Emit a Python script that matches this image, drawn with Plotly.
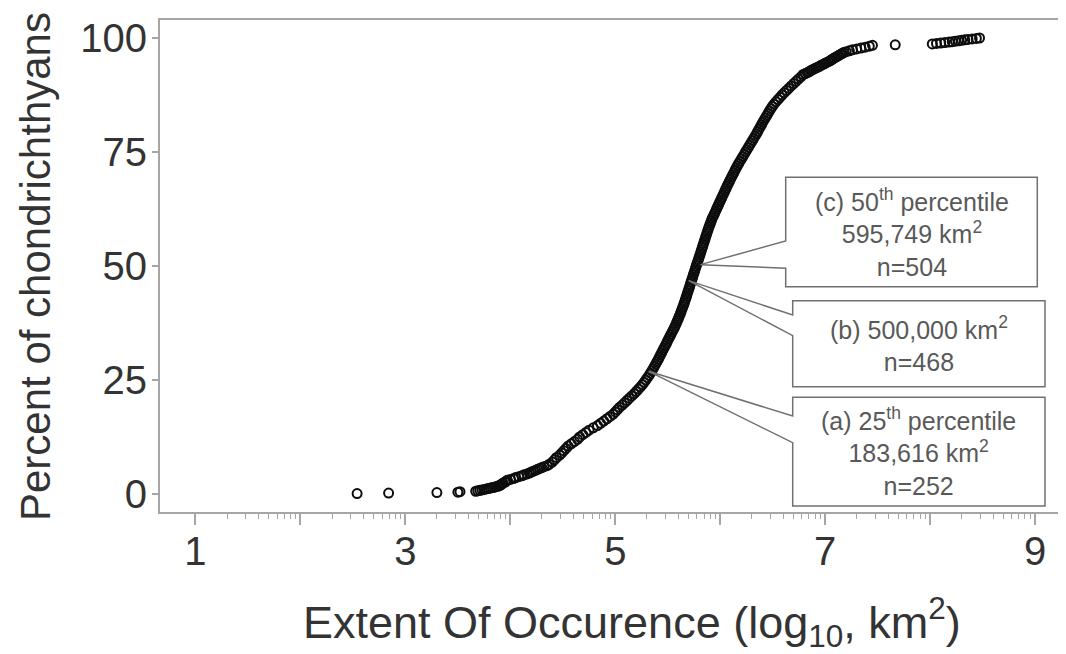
import math
import plotly.graph_objects as go

# ---- data: cumulative percent of species vs log10 EOO ----
pct_values = [
    0.1, 0.2, 0.3, 0.4, 0.5,
    0.6, 0.7, 0.8, 0.9, 1.0, 1.1, 1.2, 1.3, 1.4, 1.5, 1.6, 1.7, 1.8, 1.9,
    2.0, 2.2, 2.4, 2.6, 2.8, 3.0, 3.2, 3.4, 3.6, 3.8, 4.0, 4.2, 4.4, 4.6, 4.8,
    5.0, 5.2, 5.4, 5.6, 5.8, 6.0, 6.2,
    6.5, 7.0, 7.5, 8.0, 8.5, 9.0, 9.5, 10.0, 10.5, 11.0, 11.5, 12.0, 12.5, 13.0,
    13.5, 14.0, 14.5, 15.0, 15.5, 16.0, 16.5, 17.0, 17.5, 18.0, 18.5, 19.0, 19.5,
    20.0, 20.5, 21.0, 21.5, 22.0, 22.5, 23.0, 23.5, 24.0, 24.5, 25.0, 25.5, 26.0,
    26.5, 27.0, 27.5, 28.0, 28.5, 29.0, 29.5, 30.0, 30.5, 31.0, 31.5, 32.0, 32.5,
    33.0, 33.5, 34.0, 34.5, 35.0, 35.5, 36.0, 36.5, 37.0, 37.5, 38.0, 38.5, 39.0,
    39.5, 40.0, 40.5, 41.0, 41.5, 42.0, 42.5, 43.0, 43.5, 44.0, 44.5, 45.0, 45.5,
    46.0, 46.5, 47.0, 47.5, 48.0, 48.5, 49.0, 49.5, 50.0, 50.5, 51.0, 51.5, 52.0,
    52.5, 53.0, 53.5, 54.0, 54.5, 55.0, 55.5, 56.0, 56.5, 57.0, 57.5, 58.0, 58.5,
    59.0, 59.5, 60.0, 60.5, 61.0, 61.5, 62.0, 62.5, 63.0, 63.5, 64.0, 64.5, 65.0,
    65.5, 66.0, 66.5, 67.0, 67.5, 68.0, 68.5, 69.0, 69.5, 70.0, 70.5, 71.0, 71.5,
    72.0, 72.5, 73.0, 73.5, 74.0, 74.5, 75.0, 75.5, 76.0, 76.5, 77.0, 77.5, 78.0,
    78.5, 79.0, 79.5, 80.0, 80.5, 81.0, 81.5, 82.0, 82.5, 83.0, 83.5, 84.0, 84.5,
    85.0, 85.5, 86.0, 86.5, 87.0, 87.5, 88.0, 88.5, 89.0, 89.5, 90.0, 90.5, 91.0,
    91.5, 92.0,
    92.2, 92.4, 92.6, 92.8, 93.0, 93.2, 93.4, 93.6, 93.8, 94.0, 94.2, 94.4, 94.6,
    94.8, 95.0, 95.2, 95.4, 95.6, 95.8, 96.0, 96.2, 96.4, 96.6, 96.8, 97.0, 97.2,
    97.4, 97.6, 97.8, 98.0, 98.2, 98.4,
    98.5,
    98.7, 98.8, 98.9, 99.0, 99.1, 99.2, 99.3, 99.4, 99.5, 99.6, 99.7, 99.8, 99.9, 100.0,
]

eoo_log10 = [
    2.54, 2.84, 3.30, 3.50, 3.52,
    3.67, 3.69, 3.71, 3.73, 3.75, 3.77, 3.79, 3.81, 3.83, 3.85, 3.86, 3.88, 3.89, 3.90,
    3.91, 3.92, 3.93, 3.95, 3.96, 3.97, 4.00, 4.03, 4.05, 4.08, 4.11, 4.13, 4.16, 4.18, 4.20,
    4.22, 4.24, 4.26, 4.28, 4.30, 4.32, 4.35,
    4.37, 4.40, 4.42, 4.44, 4.47, 4.49, 4.51, 4.53, 4.55, 4.58, 4.61, 4.64, 4.66, 4.69,
    4.72, 4.75, 4.79, 4.83, 4.86, 4.89, 4.92, 4.95, 4.98, 5.00, 5.02, 5.04, 5.066,
    5.088, 5.111, 5.134, 5.157, 5.18, 5.20, 5.22, 5.24, 5.258, 5.275, 5.291, 5.306, 5.321,
    5.335, 5.348, 5.361, 5.373, 5.385, 5.397, 5.409, 5.42, 5.431, 5.442, 5.453, 5.464, 5.475,
    5.486, 5.497, 5.508, 5.519, 5.53, 5.541, 5.552, 5.563, 5.573, 5.583, 5.592, 5.601, 5.61,
    5.619, 5.627, 5.635, 5.643, 5.651, 5.659, 5.666, 5.673, 5.68, 5.687, 5.694, 5.701, 5.708,
    5.715, 5.722, 5.729, 5.736, 5.743, 5.75, 5.757, 5.764, 5.771, 5.778, 5.786, 5.793, 5.80,
    5.807, 5.814, 5.821, 5.828, 5.835, 5.842, 5.849, 5.856, 5.863, 5.87, 5.877, 5.884, 5.892,
    5.90, 5.908, 5.916, 5.924, 5.935, 5.945, 5.955, 5.965, 5.975, 5.985, 5.995, 6.005, 6.015,
    6.025, 6.035, 6.045, 6.055, 6.065, 6.075, 6.086, 6.097, 6.108, 6.119, 6.13, 6.141, 6.152,
    6.164, 6.176, 6.189, 6.202, 6.215, 6.228, 6.241, 6.254, 6.267, 6.28, 6.293, 6.306, 6.319,
    6.332, 6.345, 6.357, 6.369, 6.381, 6.393, 6.405, 6.417, 6.43, 6.443, 6.456, 6.469, 6.482,
    6.496, 6.512, 6.53, 6.549, 6.569, 6.589, 6.61, 6.632, 6.654, 6.676, 6.699, 6.722, 6.745,
    6.768, 6.79,
    6.81, 6.83, 6.845, 6.86, 6.875, 6.89, 6.91, 6.93, 6.945, 6.96, 6.98, 6.995, 7.01,
    7.03, 7.045, 7.06, 7.07, 7.085, 7.10, 7.115, 7.13, 7.145, 7.16, 7.175, 7.20, 7.23,
    7.26, 7.30, 7.34, 7.38, 7.42, 7.45,
    7.667,
    8.02, 8.06, 8.10, 8.14, 8.18, 8.21, 8.24, 8.27, 8.30, 8.33, 8.36, 8.40, 8.44, 8.47,
]

y_tick_values = [0, 25, 50, 75, 100]
x_major_ticks = [1, 2, 3, 4, 5, 6, 7, 8, 9]
x_tick_labels = ["1", "", "3", "", "5", "", "7", "", "9"]

callout_texts = [
    "(c) 50<sup>th</sup> percentile<br>595,749 km<sup>2</sup><br>n=504",
    "(b) 500,000 km<sup>2</sup><br>n=468",
    "(a) 25<sup>th</sup> percentile<br>183,616 km<sup>2</sup><br>n=252",
]

# ---- layout geometry (reference pixel coords; page adds an 8px body margin) ----
OFF = 8
W, H = 1066 - OFF, 654 - OFF
PL, PR, PT, PB = 160, 1066, 20, 512          # plot area in screenshot pixels
X0, X1 = 0.662, 9.294
Y0, Y1 = -3.95, 103.95


def px2x(px):
    return X0 + (px - PL) / (PR - PL) * (X1 - X0)


def py2y(py):
    return Y1 - (py - PT) / (PB - PT) * (Y1 - Y0)


def px2paper(px):
    return (px - PL) / (PR - PL)


def py2paper(py):
    return (PB - py) / (PB - PT)


AX = "#a6a6a6"
TXT = "#333333"
ANN = "#595959"
FONT = "Liberation Sans, Arial, sans-serif"

fig = go.Figure()
fig.add_trace(go.Scatter(
    x=eoo_log10, y=pct_values, mode="markers",
    marker=dict(symbol="circle-open", size=9, color="#0d0d0d", line=dict(width=2)),
    hoverinfo="skip", showlegend=False,
))

minor_vals = [n + math.log10(k) for n in range(1, 9) for k in range(2, 10)]

fig.update_xaxes(
    range=[X0, X1], tickmode="array", tickvals=x_major_ticks, ticktext=x_tick_labels,
    ticks="outside", ticklen=11, tickwidth=1.5, tickcolor=AX,
    showline=True, linecolor=AX, linewidth=1.8, mirror=True,
    showgrid=False, zeroline=False,
    tickfont=dict(size=40, color=TXT, family=FONT),
    ticklabelstandoff=-8,
    minor=dict(tickmode="array", tickvals=minor_vals, ticks="outside", ticklen=5,
               tickwidth=1.2, tickcolor=AX, showgrid=False),
)
fig.update_yaxes(
    range=[Y0, Y1], tickmode="array", tickvals=y_tick_values,
    ticks="outside", ticklen=6, tickwidth=1.5, tickcolor=AX,
    showline=True, linecolor=AX, linewidth=1.8,
    showgrid=False, zeroline=False,
    tickfont=dict(size=40, color=TXT, family=FONT),
    ticklabelstandoff=-3,
)

# callout boxes: (left, top, right, bottom, wedge_top, wedge_bottom) in pixels, tip in data
boxes = [
    (785.7, 177.3, 1037.3, 286.7, 241.0, 268.3, (5.811, 50.3)),
    (792.7, 300.7, 1045.0, 386.7, 315.0, 335.7, (5.699, 46.8)),
    (792.7, 397.3, 1045.0, 506.0, 416.0, 442.7, (5.318, 26.9)),
]
for (l, t, r, b, wt, wb, tip), txt in zip(boxes, callout_texts):
    path = (f"M {px2x(l)},{py2y(t)} L {px2x(r)},{py2y(t)} L {px2x(r)},{py2y(b)} "
            f"L {px2x(l)},{py2y(b)} L {px2x(l)},{py2y(wb)} L {tip[0]},{tip[1]} "
            f"L {px2x(l)},{py2y(wt)} Z")
    fig.add_shape(type="path", path=path, xref="x", yref="y",
                  line=dict(color="#707070", width=1.5), fillcolor="white", layer="above")
    fig.add_annotation(x=px2x((l + r) / 2), y=py2y((t + b) / 2), xref="x", yref="y",
                       xanchor="center", yanchor="middle",
                       text=txt, showarrow=False, align="center",
                       font=dict(size=25, color=ANN, family=FONT))

# axis titles
fig.add_annotation(x=px2paper(632), y=py2paper(622), xref="paper", yref="paper",
                   xanchor="center", yanchor="middle",
                   text="Extent Of Occurence (log<sub>10</sub>, km<sup>2</sup>)", showarrow=False,
                   font=dict(size=45, color=TXT, family=FONT))
fig.add_annotation(x=px2paper(35), y=py2paper(267), xref="paper", yref="paper",
                   xanchor="center", yanchor="middle",
                   text="Percent of chondrichthyans", showarrow=False, textangle=-90,
                   font=dict(size=42, color=TXT, family=FONT))

fig.update_layout(
    width=W, height=H,
    margin=dict(l=PL - OFF, r=0, t=PT - OFF, b=H - (PB - OFF), pad=0),
    paper_bgcolor="white", plot_bgcolor="white",
    showlegend=False,
)

fig.write_html("out.html")
